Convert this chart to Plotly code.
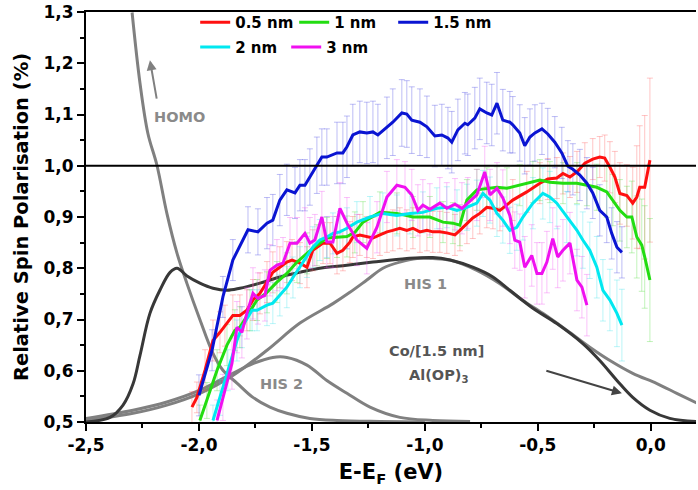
import plotly.graph_objects as go

# ---------------- data ----------------
red_x = [-2.031, -2.009, -1.973, -1.938, -1.907, -1.885, -1.850, -1.819, -1.788, -1.761, -1.730, -1.699,
         -1.673, -1.642, -1.611, -1.588, -1.553, -1.522, -1.496, -1.451, -1.420, -1.389, -1.363, -1.332,
         -1.319, -1.288, -1.257, -1.230, -1.199, -1.168, -1.142, -1.111, -1.080, -1.053, -1.022, -0.991,
         -0.965, -0.934, -0.903, -0.867, -0.845, -0.814, -0.788, -0.757, -0.726, -0.699, -0.668, -0.611,
         -0.549, -0.491, -0.456, -0.416, -0.389, -0.358, -0.327, -0.292, -0.257, -0.226, -0.204, -0.181,
         -0.159, -0.137, -0.106, -0.080, -0.062, -0.049, -0.027, -0.004]
red_y = [0.529, 0.548, 0.601, 0.659, 0.675, 0.688, 0.708, 0.708, 0.718, 0.738, 0.751, 0.773,
         0.792, 0.802, 0.812, 0.816, 0.810, 0.802, 0.835, 0.849, 0.849, 0.829, 0.835, 0.851,
         0.861, 0.865, 0.861, 0.859, 0.865, 0.871, 0.874, 0.878, 0.874, 0.878, 0.871, 0.874,
         0.871, 0.871, 0.869, 0.865, 0.874, 0.888, 0.898, 0.907, 0.919, 0.917, 0.913, 0.933,
         0.949, 0.966, 0.974, 0.976, 0.985, 0.978, 0.988, 1.005, 1.013, 1.017, 1.015, 0.997,
         0.978, 0.946, 0.942, 0.927, 0.939, 0.958, 0.958, 1.011]
red_err = [0.03, 0.03, 0.04, 0.04, 0.04, 0.04, 0.04, 0.04, 0.04, 0.04, 0.04, 0.04,
           0.04, 0.04, 0.04, 0.04, 0.04, 0.04, 0.04, 0.04, 0.04, 0.04, 0.04, 0.04,
           0.04, 0.04, 0.04, 0.04, 0.04, 0.04, 0.04, 0.04, 0.04, 0.04, 0.04, 0.04,
           0.04, 0.04, 0.04, 0.04, 0.04, 0.04, 0.04, 0.04, 0.04, 0.04, 0.04, 0.04,
           0.04, 0.04, 0.04, 0.04, 0.04, 0.04, 0.04, 0.04, 0.04, 0.04, 0.045, 0.05,
           0.05, 0.06, 0.06, 0.07, 0.10, 0.12, 0.14, 0.16]

green_x = [-1.996, -1.965, -1.920, -1.876, -1.841, -1.819, -1.774, -1.743, -1.699, -1.655, -1.611, -1.566,
           -1.522, -1.478, -1.434, -1.389, -1.345, -1.310, -1.274, -1.199, -1.124, -1.053, -0.978, -0.920,
           -0.876, -0.845, -0.814, -0.770, -0.726, -0.681, -0.637, -0.580, -0.522, -0.491, -0.447, -0.389,
           -0.327, -0.283, -0.239, -0.195, -0.168, -0.137, -0.106, -0.084, -0.062, -0.040, -0.027, -0.004]
green_y = [0.503, 0.542, 0.601, 0.650, 0.679, 0.685, 0.718, 0.738, 0.753, 0.773, 0.790, 0.812,
           0.829, 0.845, 0.859, 0.861, 0.862, 0.870, 0.890, 0.909, 0.907, 0.900, 0.900, 0.890,
           0.888, 0.884, 0.933, 0.953, 0.956, 0.958, 0.956, 0.962, 0.968, 0.972, 0.968, 0.966,
           0.966, 0.962, 0.958, 0.949, 0.933, 0.913, 0.900, 0.900, 0.861, 0.845, 0.822, 0.777]
green_err = [0.03, 0.035, 0.04, 0.04, 0.04, 0.04, 0.04, 0.04, 0.04, 0.04, 0.04, 0.04,
             0.04, 0.04, 0.04, 0.04, 0.04, 0.04, 0.04, 0.04, 0.04, 0.04, 0.04, 0.04,
             0.04, 0.04, 0.04, 0.04, 0.04, 0.04, 0.04, 0.04, 0.04, 0.04, 0.04, 0.04,
             0.04, 0.04, 0.045, 0.05, 0.05, 0.06, 0.06, 0.07, 0.08, 0.09, 0.10, 0.12]

blue_x = [-2.000, -1.942, -1.894, -1.850, -1.783, -1.739, -1.699, -1.673, -1.642, -1.611, -1.575, -1.553,
          -1.531, -1.509, -1.478, -1.456, -1.434, -1.389, -1.363, -1.345, -1.319, -1.288, -1.257, -1.230,
          -1.208, -1.168, -1.142, -1.102, -1.080, -1.058, -1.022, -0.991, -0.956, -0.925, -0.898, -0.881,
          -0.854, -0.823, -0.810, -0.779, -0.757, -0.726, -0.704, -0.681, -0.655, -0.624, -0.611, -0.580,
          -0.558, -0.535, -0.513, -0.482, -0.456, -0.425, -0.394, -0.367, -0.345, -0.314, -0.283, -0.257,
          -0.226, -0.195, -0.173, -0.150, -0.128]
blue_y = [0.552, 0.640, 0.744, 0.816, 0.875, 0.871, 0.888, 0.894, 0.933, 0.953, 0.947, 0.962,
          0.962, 0.978, 1.001, 1.017, 1.017, 1.025, 1.025, 1.037, 1.060, 1.066, 1.064, 1.066,
          1.060, 1.074, 1.085, 1.103, 1.101, 1.089, 1.085, 1.076, 1.058, 1.060, 1.054, 1.046,
          1.070, 1.083, 1.080, 1.093, 1.111, 1.103, 1.099, 1.122, 1.089, 1.085, 1.080, 1.064,
          1.039, 1.056, 1.064, 1.072, 1.062, 1.046, 1.025, 0.999, 0.993, 0.982, 0.966, 0.947,
          0.913, 0.900, 0.868, 0.841, 0.831]
blue_err = [0.04, 0.04, 0.04, 0.04, 0.045, 0.045, 0.05, 0.05, 0.05, 0.05, 0.05, 0.05,
            0.05, 0.055, 0.055, 0.055, 0.055, 0.06, 0.06, 0.06, 0.06, 0.06, 0.06, 0.06,
            0.06, 0.06, 0.065, 0.065, 0.065, 0.065, 0.065, 0.06, 0.06, 0.06, 0.06, 0.06,
            0.06, 0.06, 0.06, 0.06, 0.06, 0.06, 0.06, 0.06, 0.06, 0.06, 0.055, 0.055,
            0.055, 0.055, 0.055, 0.05, 0.05, 0.05, 0.05, 0.05, 0.05, 0.05, 0.05, 0.05,
            0.05, 0.05, 0.05, 0.05, 0.05]

cyan_x = [-1.938, -1.907, -1.872, -1.832, -1.810, -1.765, -1.743, -1.699, -1.673, -1.642, -1.611, -1.584,
          -1.553, -1.522, -1.496, -1.465, -1.434, -1.407, -1.376, -1.345, -1.301, -1.243, -1.186, -1.124,
          -1.066, -1.009, -0.947, -0.903, -0.858, -0.814, -0.770, -0.743, -0.712, -0.681, -0.655, -0.624,
          -0.593, -0.566, -0.522, -0.478, -0.447, -0.416, -0.372, -0.327, -0.301, -0.270, -0.239, -0.212,
          -0.181, -0.150, -0.128]
cyan_y = [0.503, 0.548, 0.601, 0.659, 0.685, 0.718, 0.718, 0.728, 0.732, 0.747, 0.763, 0.782,
          0.802, 0.822, 0.841, 0.855, 0.861, 0.868, 0.871, 0.878, 0.890, 0.900, 0.907, 0.903,
          0.907, 0.909, 0.917, 0.919, 0.913, 0.919, 0.927, 0.946, 0.933, 0.907, 0.894, 0.874,
          0.880, 0.900, 0.927, 0.946, 0.939, 0.927, 0.900, 0.874, 0.855, 0.835, 0.802, 0.757,
          0.738, 0.712, 0.689]
cyan_err = [0.03, 0.035, 0.04, 0.04, 0.04, 0.04, 0.04, 0.04, 0.04, 0.04, 0.04, 0.04,
            0.04, 0.04, 0.04, 0.04, 0.04, 0.04, 0.04, 0.04, 0.04, 0.04, 0.04, 0.04,
            0.04, 0.04, 0.04, 0.04, 0.04, 0.045, 0.045, 0.045, 0.045, 0.045, 0.045, 0.045,
            0.045, 0.045, 0.05, 0.05, 0.05, 0.05, 0.05, 0.05, 0.055, 0.055, 0.06, 0.06,
            0.06, 0.065, 0.07]

mag_x = [-1.920, -1.894, -1.854, -1.832, -1.810, -1.788, -1.761, -1.739, -1.708, -1.686, -1.655, -1.628,
         -1.597, -1.566, -1.531, -1.509, -1.487, -1.456, -1.434, -1.407, -1.376, -1.345, -1.301, -1.257,
         -1.212, -1.168, -1.124, -1.088, -1.058, -1.031, -1.009, -0.978, -0.934, -0.903, -0.867, -0.836,
         -0.810, -0.770, -0.735, -0.712, -0.681, -0.655, -0.624, -0.602, -0.580, -0.558, -0.527, -0.504,
         -0.482, -0.460, -0.434, -0.412, -0.389, -0.358, -0.327, -0.305, -0.283]
mag_y = [0.503, 0.548, 0.614, 0.685, 0.675, 0.712, 0.751, 0.741, 0.747, 0.796, 0.806, 0.810,
         0.849, 0.849, 0.868, 0.849, 0.855, 0.900, 0.851, 0.851, 0.917, 0.888, 0.855, 0.839,
         0.880, 0.939, 0.962, 0.958, 0.943, 0.913, 0.923, 0.915, 0.927, 0.917, 0.925, 0.917,
         0.927, 0.943, 0.988, 0.943, 0.956, 0.937, 0.903, 0.855, 0.851, 0.802, 0.825, 0.790,
         0.790, 0.812, 0.858, 0.822, 0.835, 0.849, 0.777, 0.763, 0.728]
mag_err = [0.04, 0.045, 0.05, 0.05, 0.05, 0.05, 0.05, 0.05, 0.05, 0.05, 0.05, 0.05,
           0.05, 0.05, 0.05, 0.05, 0.05, 0.05, 0.05, 0.05, 0.05, 0.05, 0.05, 0.05,
           0.05, 0.05, 0.05, 0.05, 0.05, 0.05, 0.05, 0.05, 0.05, 0.05, 0.05, 0.05,
           0.05, 0.05, 0.05, 0.05, 0.05, 0.055, 0.055, 0.055, 0.055, 0.06, 0.06, 0.06,
           0.06, 0.06, 0.06, 0.06, 0.06, 0.06, 0.06, 0.06, 0.06]

homo_x = [-2.296, -2.261, -2.226, -2.186, -2.142, -2.097, -2.053, -1.996, -1.938, -1.894, -1.832, -1.761,
          -1.686, -1.611, -1.509, -1.389, -1.200, -1.000]
homo_y = [1.299, 1.161, 1.063, 1.001, 0.907, 0.829, 0.770, 0.700, 0.634, 0.601, 0.576, 0.548,
          0.529, 0.517, 0.507, 0.503, 0.501, 0.500]

his2_x = [-2.500, -2.292, -2.142, -1.996, -1.850, -1.761, -1.673, -1.611, -1.522, -1.434, -1.345, -1.243,
          -1.111, -0.965, -0.800]
his2_y = [0.507, 0.523, 0.539, 0.562, 0.595, 0.614, 0.626, 0.626, 0.611, 0.581, 0.556, 0.529,
          0.509, 0.503, 0.501]

his1_x = [-2.500, -2.292, -2.142, -1.996, -1.850, -1.699, -1.553, -1.407, -1.332, -1.257, -1.186, -1.111,
          -1.035, -0.965, -0.889, -0.770, -0.668, -0.566, -0.478, -0.372, -0.270, -0.181, -0.080, 0.027,
          0.115, 0.208]
his1_y = [0.503, 0.517, 0.533, 0.556, 0.591, 0.640, 0.693, 0.731, 0.753, 0.777, 0.800, 0.812,
          0.819, 0.819, 0.816, 0.796, 0.770, 0.737, 0.712, 0.679, 0.646, 0.620, 0.595, 0.575,
          0.556, 0.536]

sum_x = [-2.500, -2.394, -2.336, -2.292, -2.261, -2.217, -2.173, -2.128, -2.097, -2.053, -1.996, -1.938,
         -1.876, -1.819, -1.730, -1.642, -1.553, -1.465, -1.345, -1.230, -1.080, -0.965, -0.889, -0.788,
         -0.699, -0.624, -0.522, -0.416, -0.301, -0.226, -0.150, -0.080, -0.004, 0.084, 0.204]
sum_y = [0.500, 0.509, 0.533, 0.574, 0.630, 0.712, 0.757, 0.792, 0.800, 0.785, 0.771, 0.761,
         0.757, 0.761, 0.771, 0.783, 0.792, 0.800, 0.806, 0.812, 0.819, 0.821, 0.816, 0.802,
         0.783, 0.757, 0.722, 0.692, 0.653, 0.620, 0.581, 0.548, 0.523, 0.507, 0.501]

x_tickvals = [-2.5, -2.0, -1.5, -1.0, -0.5, 0.0]
x_ticktext = ["-2,5", "-2,0", "-1,5", "-1,0", "-0,5", "0,0"]
y_tickvals = [0.5, 0.6, 0.7, 0.8, 0.9, 1.0, 1.1, 1.2, 1.3]
y_ticktext = ["0,5", "0,6", "0,7", "0,8", "0,9", "1,0", "1,1", "1,2", "1,3"]

series = [
    ("0.5 nm", red_x, red_y, red_err, "#ff1010", "rgba(255,90,90,0.35)", "legend"),
    ("1 nm", green_x, green_y, green_err, "#22dd11", "rgba(80,220,60,0.35)", "legend"),
    ("1.5 nm", blue_x, blue_y, blue_err, "#0a14d2", "rgba(90,90,230,0.40)", "legend"),
    ("2 nm", cyan_x, cyan_y, cyan_err, "#00e8f0", "rgba(60,225,235,0.35)", "legend2"),
    ("3 nm", mag_x, mag_y, mag_err, "#f010f0", "rgba(240,80,240,0.35)", "legend2"),
]

FONT = "DejaVu Sans"
fig = go.Figure()

# fitted curves (gray)
for xs, ys, col in [(homo_x, homo_y, "#808080"), (his2_x, his2_y, "#808080"),
                    (his1_x, his1_y, "#808080"), (sum_x, sum_y, "#383838")]:
    fig.add_trace(go.Scatter(x=xs, y=ys, mode="lines", line=dict(color=col, width=3, shape="spline"),
                             showlegend=False, hoverinfo="skip"))

# error bars first (drawn beneath lines)
for name, xs, ys, es, col, ecol, lg in series:
    fig.add_trace(go.Scatter(x=xs, y=ys, mode="markers", marker=dict(size=0.1, color="rgba(0,0,0,0)"),
                             error_y=dict(type="data", array=es, visible=True, color=ecol, thickness=1, width=3),
                             showlegend=False, hoverinfo="skip"))
for name, xs, ys, es, col, ecol, lg in series:
    fig.add_trace(go.Scatter(x=xs, y=ys, mode="lines", name=name, line=dict(color=col, width=3),
                             legend=lg))

# reference line at 1.0
fig.add_shape(type="line", xref="paper", x0=0, x1=1, yref="y", y0=1.0, y1=1.0,
              line=dict(color="black", width=2))

gray_font = dict(family=FONT, size=14.5, color="#8a8a8a", weight="bold")
dark_font = dict(family=FONT, size=14.5, color="#555555", weight="bold")
fig.add_annotation(x=-2.088, y=1.095, text="HOMO", showarrow=False, font=gray_font)
fig.add_annotation(x=-0.996, y=0.769, text="HIS 1", showarrow=False, font=gray_font)
fig.add_annotation(x=-1.633, y=0.574, text="HIS 2", showarrow=False, font=gray_font)
fig.add_annotation(x=-0.947, y=0.638, text="Co/[1.5 nm]", showarrow=False, font=dark_font)
fig.add_annotation(x=-0.940, y=0.590, text="Al(OP)<sub>3</sub>", showarrow=False, font=dark_font)
# arrows
fig.add_annotation(x=-2.217, y=1.206, ax=-2.186, ay=1.128, axref="x", ayref="y", text="",
                   showarrow=True, arrowhead=2, arrowsize=1, arrowwidth=2, arrowcolor="#808080")
fig.add_annotation(x=-0.128, y=0.556, ax=-0.469, ay=0.601, axref="x", ayref="y", text="",
                   showarrow=True, arrowhead=2, arrowsize=1, arrowwidth=2, arrowcolor="#444444")

tickfont = dict(family=FONT, size=17, color="black", weight="bold")
legfont = dict(family=FONT, size=15, color="black", weight="bold")
fig.update_layout(
    width=698, height=490,
    margin=dict(l=86, r=2, t=12, b=68, autoexpand=False),
    paper_bgcolor="white", plot_bgcolor="white",
    font=dict(family=FONT, color="black"),
    legend=dict(orientation="h", x=0.179, y=1.0145, xanchor="left", yanchor="top",
                bgcolor="rgba(0,0,0,0)", font=legfont, itemwidth=30, tracegroupgap=0,
                entrywidth=54, entrywidthmode="pixels"),
    legend2=dict(orientation="h", x=0.179, y=0.9545, xanchor="left", yanchor="top",
                 bgcolor="rgba(0,0,0,0)", font=legfont, itemwidth=30, tracegroupgap=0,
                 entrywidth=46, entrywidthmode="pixels"),
    xaxis=dict(range=[-2.5, 0.2], tickvals=x_tickvals, ticktext=x_ticktext,
               ticks="outside", ticklen=7, tickwidth=1.5, tickcolor="black",
               minor=dict(dtick=0.25, tick0=-2.5, ticks="outside", ticklen=4, tickwidth=1.5, tickcolor="black"),
               showline=True, linecolor="black", linewidth=2, mirror=True, automargin=False,
               showgrid=False, zeroline=False, tickfont=tickfont, ticklabeloverflow="allow",
               title=dict(text="E-E<sub>F</sub> (eV)", font=dict(family=FONT, size=21, weight="bold"), standoff=10)),
    yaxis=dict(range=[0.5, 1.3], tickvals=y_tickvals, ticktext=y_ticktext,
               ticks="outside", ticklen=7, tickwidth=1.5, tickcolor="black",
               minor=dict(dtick=0.05, tick0=0.5, ticks="outside", ticklen=4, tickwidth=1.5, tickcolor="black"),
               showline=True, linecolor="black", linewidth=2, automargin=False,
               showgrid=False, zeroline=False, tickfont=tickfont, ticklabeloverflow="allow",
               title=dict(text="Relative Spin Polarisation (%)", font=dict(family=FONT, size=19.5, weight="bold"), standoff=10)),
)

# remove the default 8px page margin so the figure fills the window exactly
fig.write_html("out.html", config={"displayModeBar": False},
               post_script="document.body.style.margin='0';")
